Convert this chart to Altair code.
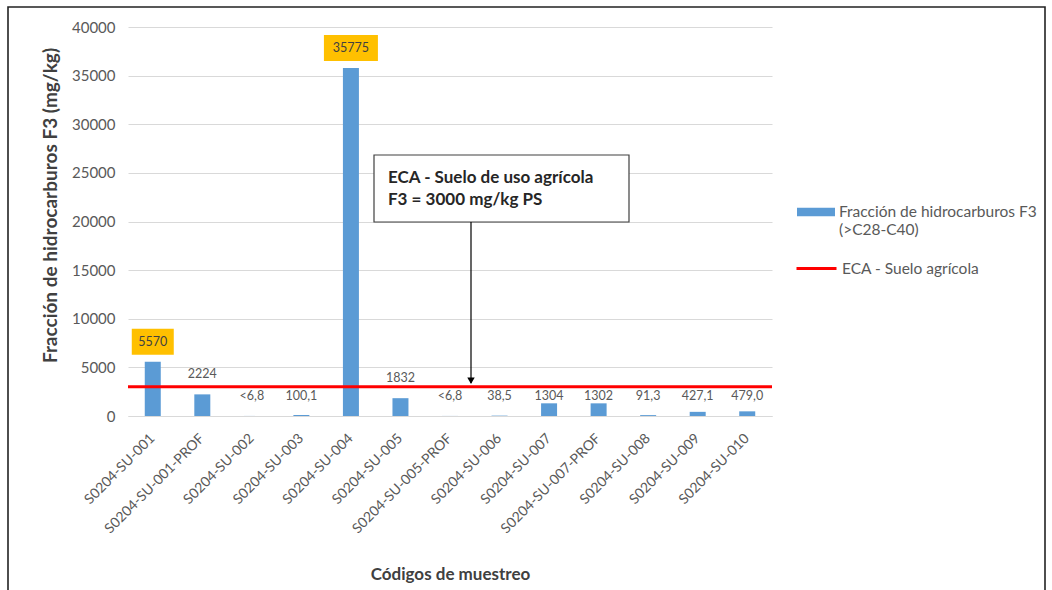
import altair as alt
import pandas as pd

codigos = ["S0204-SU-001", "S0204-SU-001-PROF", "S0204-SU-002", "S0204-SU-003",
           "S0204-SU-004", "S0204-SU-005", "S0204-SU-005-PROF", "S0204-SU-006",
           "S0204-SU-007", "S0204-SU-007-PROF", "S0204-SU-008", "S0204-SU-009",
           "S0204-SU-010"]
valores = [5570, 2224, 6.8, 100.1, 35775, 1832, 6.8, 38.5, 1304, 1302, 91.3, 427.1, 479.0]
etiquetas = ["5570", "2224", "<6,8", "100,1", "35775", "1832", "<6,8", "38,5",
             "1304", "1302", "91,3", "427,1", "479,0"]
eca_valor = 3000
serie_f3 = "Fracción de hidrocarburos F3 (>C28-C40)"
serie_eca = "ECA - Suelo agrícola"
y_ticks = [0, 5000, 10000, 15000, 20000, 25000, 30000, 35000, 40000]

FONT = "Lato"
df = pd.DataFrame({"codigo": codigos, "valor": valores, "label": etiquetas, "serie": serie_f3})
eca_df = pd.DataFrame({"v": [eca_valor], "serie": [serie_eca]})
one = pd.DataFrame({"a": [0]})

x_enc = alt.X("codigo:N", sort=codigos, title="Códigos de muestreo",
              scale=alt.Scale(paddingInner=0.0, paddingOuter=0.0),
              axis=alt.Axis(labelAngle=-45, labelAlign="right", labelBaseline="middle",
                            labelFont=FONT, labelFontSize=14, labelColor="#595959",
                            labelPadding=20, ticks=False, grid=False, domainColor="#d9d9d9",
                            titleFont=FONT, titleFontSize=17, titleFontWeight="bold",
                            titleColor="#404040", titleY=158, titleBaseline="middle"))
y_scale = alt.Scale(domain=[0, 40000], nice=False)
y_axis = alt.Axis(values=y_ticks, format="d", domain=False, ticks=False, gridColor="#d9d9d9",
                  labelFont=FONT, labelFontSize=15, labelColor="#595959", labelPadding=13,
                  title="Fracción de hidrocarburos F3 (mg/kg)", titleFont=FONT,
                  titleFontSize=19, titleFontWeight="bold", titleColor="#404040",
                  titleX=-78, titleY=178, titleAlign="center", titleBaseline="middle")

base = alt.Chart(df)

bars = base.mark_bar(size=16).encode(
    x=x_enc,
    y=alt.Y("valor:Q", scale=y_scale, axis=y_axis),
    fill=alt.Fill("serie:N", scale=alt.Scale(domain=[serie_f3], range=["#5B9BD5"]),
                  legend=alt.Legend(title=None, orient="none", legendX=669, legendY=166,
                                    symbolType="M-1,-0.22H1V0.22H-1Z", symbolSize=1444,
                                    symbolStrokeWidth=0, labelFont=FONT, labelFontSize=15.5,
                                    labelColor="#595959", labelLimit=400, labelOffset=4,
                                    labelExpr="[split(datum.label,' (')[0], '(' + split(datum.label,' (')[1]]")),
)

rule = alt.Chart(eca_df).mark_rule(strokeWidth=3).encode(
    y=alt.Y("v:Q", scale=y_scale),
    stroke=alt.Stroke("serie:N", scale=alt.Scale(domain=[serie_eca], range=["#FF0000"]),
                      legend=alt.Legend(title=None, orient="none", legendX=667, legendY=220,
                                        symbolType="stroke", symbolSize=1600,
                                        symbolStrokeWidth=3, labelFont=FONT, labelFontSize=15.5,
                                        labelColor="#595959", labelLimit=400, labelOffset=4)),
)

lab = base.transform_calculate(
    ly="datum.valor < 1500 ? 0 : datum.valor",
    w="length(datum.label) * 12 - 6",
)

hl = lab.transform_filter(f"datum.valor > {eca_valor}").mark_tick(
    thickness=26, color="#FFC000", opacity=1, yOffset=-20).encode(
    x=alt.X("codigo:N", sort=codigos),
    y=alt.Y("ly:Q", scale=y_scale),
    size=alt.Size("w:Q", scale=None, legend=None),
)

texts = lab.mark_text(dy=-20, baseline="middle", font=FONT, fontSize=12.5).encode(
    x=alt.X("codigo:N", sort=codigos),
    y=alt.Y("ly:Q", scale=y_scale),
    text="label:N",
    color=alt.condition(f"datum.valor > {eca_valor}", alt.value("#404040"), alt.value("#595959")),
)

box = alt.Chart(one).mark_rect(fill="white", stroke="#404040", strokeWidth=1.2).encode(
    x=alt.value(246), x2=alt.value(501), y=alt.value(128), y2=alt.value(195))

box_text = alt.Chart(one).mark_text(align="left", baseline="middle", font=FONT, fontSize=17,
                                    fontWeight="bold", color="#262626", lineHeight=22).encode(
    x=alt.value(260), y=alt.value(151),
    text=alt.value(["ECA - Suelo de uso agrícola", "F3 = 3000 mg/kg PS"]))

arrow = alt.Chart(one).mark_rule(color="black", strokeWidth=1.2).encode(
    x=alt.value(343), y=alt.datum(19950), y2=alt.datum(eca_valor + 400))
head = alt.Chart(one).mark_point(shape="triangle-down", filled=True, color="black",
                                 size=55, opacity=1, yOffset=-6).encode(
    x=alt.value(343), y=alt.datum(eca_valor))

frame = alt.Chart(one).mark_rect(fill=None, stroke="#222222", strokeWidth=1.6, clip=False).encode(
    x=alt.value(-120), x2=alt.value(917), y=alt.value(-20), y2=alt.value(600))

chart = alt.layer(frame, bars, rule, hl, texts, box, box_text, arrow, head).properties(
    width=644, height=389,
    padding={"left": 128, "top": 27, "right": 280, "bottom": 174},
    autosize=alt.AutoSizeParams(type="none"),
    background="white",
).configure_view(stroke=None, strokeWidth=0)

chart.save("out.html", embed_options={"renderer": "svg", "actions": False})
